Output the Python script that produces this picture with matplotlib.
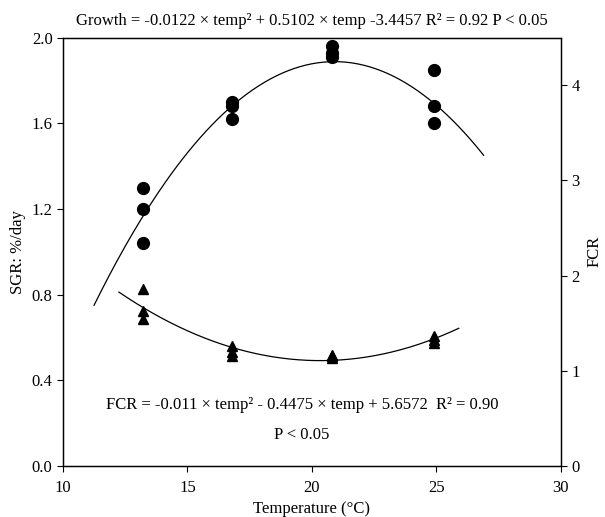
import numpy as np
import matplotlib
matplotlib.use("Agg")
import matplotlib.pyplot as plt

plt.rcParams['font.family'] = ['Liberation Serif', 'DejaVu Serif']
plt.rcParams['font.size'] = 12

# temperature groups (°C)
temp = [13.2, 16.8, 20.8, 24.9]

# SGR replicates (%/day), three tanks per temperature
sgr = [[1.30, 1.20, 1.04],
       [1.70, 1.68, 1.62],
       [1.96, 1.93, 1.91],
       [1.85, 1.68, 1.60]]

# FCR replicates
fcr = [[1.86, 1.63, 1.54],
       [1.26, 1.20, 1.15],
       [1.16, 1.15, 1.13],
       [1.36, 1.32, 1.29]]

# quadratic fits (a*t^2 + b*t + c) and the span each curve covers
growth_coef = [-0.0122, 0.5102, -3.4457]
growth_span = [11.25, 26.9]
fcr_coef = [0.011, -0.4475, 5.6572]
fcr_span = [12.25, 25.9]

growth_text = "Growth = -0.0122 × temp² + 0.5102 × temp -3.4457 R² = 0.92 P < 0.05"
fcr_line1 = "FCR = -0.011 × temp² - 0.4475 × temp + 5.6572  R² = 0.90"
fcr_line2 = "P < 0.05"


def main():
    fig = plt.figure(figsize=(6.05, 5.17), dpi=100)
    ax = fig.add_axes([0.104, 0.099, 0.823, 0.828])
    ax2 = ax.twinx()

    for t, vals in zip(temp, sgr):
        ax.plot([t] * len(vals), vals, 'o', color='black', ms=8.5, mec='black')
    for t, vals in zip(temp, fcr):
        ax2.plot([t] * len(vals), vals, '^', color='black', ms=7, mec='black')

    tg = np.linspace(growth_span[0], growth_span[1], 200)
    ax.plot(tg, np.polyval(growth_coef, tg), color='black', lw=0.9)
    tf = np.linspace(fcr_span[0], fcr_span[1], 200)
    ax2.plot(tf, np.polyval(fcr_coef, tf), color='black', lw=0.9)

    ax.set_xlim(10, 30)
    ax.set_ylim(0, 2.0)
    ax2.set_ylim(0, 4.5)
    ax.set_xticks([10, 15, 20, 25, 30])
    ax.set_yticks(np.arange(0, 2.01, 0.4))
    ax.set_yticklabels(["%.1f" % v for v in np.arange(0, 2.01, 0.4)])
    ax2.set_yticks([0, 1, 2, 3, 4])

    for a in (ax, ax2):
        a.tick_params(direction='out', length=4, width=0.8, labelsize=12)
        for s in a.spines.values():
            s.set_linewidth(0.9)
    ax.tick_params(axis='x', pad=6)

    ax.set_xlabel("Temperature (°C)", fontsize=12, labelpad=4)
    ax.set_ylabel("SGR: %/day", fontsize=12, labelpad=4)
    ax2.set_ylabel("FCR", fontsize=12, labelpad=5)

    ax.set_title(growth_text, fontsize=12, pad=9)
    ax.text(19.6, 0.285, fcr_line1, ha='center', va='center', fontsize=12)
    ax.text(19.6, 0.145, fcr_line2, ha='center', va='center', fontsize=12)

    fig.savefig("out.png", dpi=100)


if __name__ == "__main__":
    main()
